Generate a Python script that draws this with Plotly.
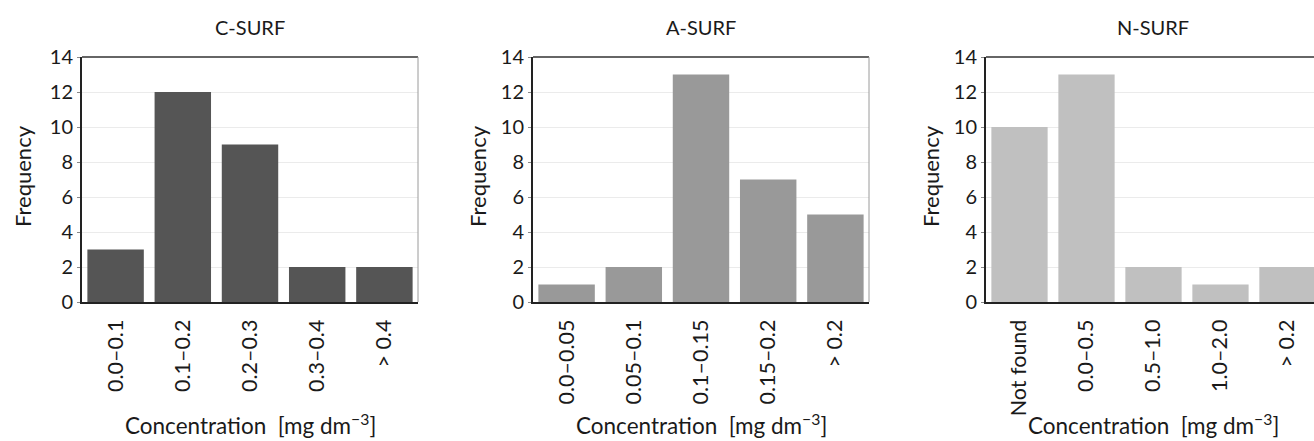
import plotly.graph_objects as go

# ---- data ----
titles = ["C-SURF", "A-SURF", "N-SURF"]
c_cats = ["0.0–0.1", "0.1–0.2", "0.2–0.3", "0.3–0.4", "> 0.4"]
c_vals = [3, 12, 9, 2, 2]
a_cats = ["0.0–0.05", "0.05–0.1", "0.1–0.15", "0.15–0.2", "> 0.2"]
a_vals = [1, 2, 13, 7, 5]
n_cats = ["Not found", "0.0–0.5", "0.5–1.0", "1.0–2.0", "> 0.2"]
n_vals = [10, 13, 2, 1, 2]
y_ticks = [0, 2, 4, 6, 8, 10, 12, 14]
bar_colors = ["#555555", "#999999", "#c0c0c0"]
x_title = "Concentration  [mg dm<sup>−3</sup>]"
y_title = "Frequency"

W, H = 1314, 441
FONT = "Lato"
TXT = "#1a1a1a"

# pixel layout of the three plot areas
px_dom = [(82, 418), (533, 869), (986, 1314)]
ytop, ybot = 57, 302
ydom = [1 - ybot / H, 1 - ytop / H]
xranges = [[-0.5, 4.5], [-0.5, 4.5], [-0.5, 4.5 - (1321 - 1314) / 67.2]]
ytitle_x = [22, 477, 930]
centers = [250, 701, 1153]

fig = go.Figure()
cats_all = [c_cats, a_cats, n_cats]
vals_all = [c_vals, a_vals, n_vals]

annotations = []
shapes = []
for i in range(3):
    xa = "x" if i == 0 else f"x{i+1}"
    ya = "y" if i == 0 else f"y{i+1}"
    fig.add_trace(go.Bar(
        x=cats_all[i], y=vals_all[i], xaxis=xa, yaxis=ya,
        marker=dict(color=bar_colors[i], line=dict(width=0)),
        showlegend=False, hoverinfo="skip",
    ))
    l, r = px_dom[i]
    xd = [l / W, r / W]
    xkey = "xaxis" if i == 0 else f"xaxis{i+1}"
    ykey = "yaxis" if i == 0 else f"yaxis{i+1}"
    fig.update_layout({
        xkey: dict(
            domain=xd, anchor=ya, range=xranges[i], automargin=False,
            showline=True, linecolor="#222222", linewidth=2,
            showgrid=False, ticks="", tickangle=-90,
            tickfont=dict(family=FONT, size=21.5, color=TXT),
            ticklabelstandoff=7, fixedrange=True,
        ),
        ykey: dict(
            domain=ydom, anchor=xa, range=[0, 14], automargin=False,
            tickvals=y_ticks, showline=True, linecolor="#222222", linewidth=2,
            showgrid=True, gridcolor="#ebebeb", gridwidth=1,
            ticks="outside", ticklen=3, tickcolor="#888888",
            tickfont=dict(family=FONT, size=20, color=TXT),
            zeroline=False, fixedrange=True,
        ),
    })
    cx = centers[i]
    annotations.append(dict(
        text=titles[i], xref="paper", yref="paper", x=cx / W, y=1 - 27 / H,
        showarrow=False, xanchor="center", yanchor="middle",
        font=dict(family=FONT, size=20, color=TXT),
    ))
    annotations.append(dict(
        text=y_title, xref="paper", yref="paper", x=ytitle_x[i] / W,
        y=1 - 176 / H, textangle=-90, showarrow=False,
        xanchor="center", yanchor="middle",
        font=dict(family=FONT, size=22, color=TXT),
    ))
    annotations.append(dict(
        text=x_title, xref="paper", yref="paper", x=cx / W, y=1 - 424 / H,
        showarrow=False, xanchor="center", yanchor="middle",
        font=dict(family=FONT, size=22.5, color=TXT),
    ))
    # top border
    shapes.append(dict(type="line", xref=f"{xa} domain", yref=f"{ya} domain",
                       x0=0, x1=1, y0=1, y1=1,
                       line=dict(color="#333333", width=1.5)))
    if i < 2:
        shapes.append(dict(type="line", xref=f"{xa} domain", yref=f"{ya} domain",
                           x0=1, x1=1, y0=0, y1=1,
                           line=dict(color="#9a9a9a", width=1)))

fig.update_layout(
    template="none",
    width=W, height=H,
    margin=dict(l=0, r=0, t=0, b=0, pad=0, autoexpand=False),
    paper_bgcolor="white", plot_bgcolor="white",
    bargap=0.16,
    annotations=annotations, shapes=shapes,
    font=dict(family=FONT, color=TXT),
)

fig.write_html(
    "out.html",
    config={"displayModeBar": False},
    post_script="document.body.style.margin='0';document.body.style.overflow='hidden';",
)
